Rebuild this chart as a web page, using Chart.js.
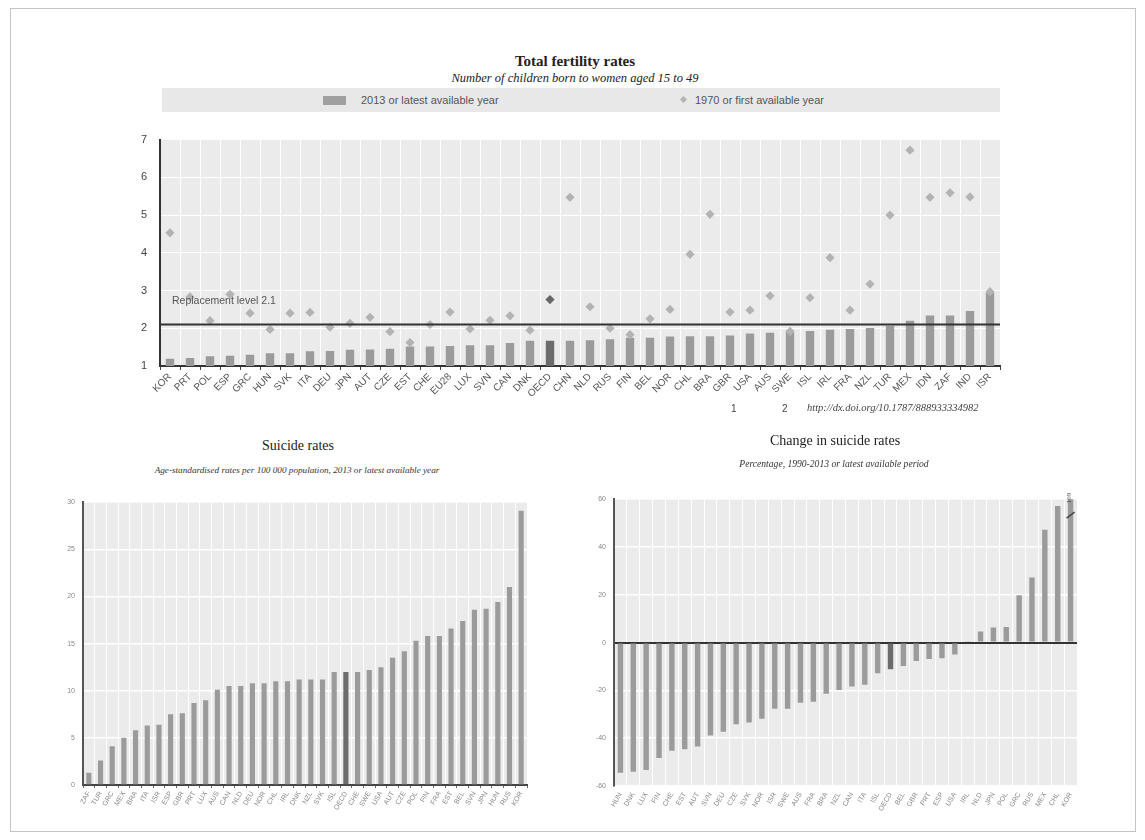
<!DOCTYPE html>
<html>
<head>
<meta charset="utf-8">
<script src="https://cdn.jsdelivr.net/npm/chart.js@4.4.1/dist/chart.umd.min.js"></script>
<style>
  body { margin: 0; background: #fff; width: 1145px; height: 840px; position: relative; overflow: hidden; font-family: "Liberation Sans", Arial, sans-serif; }
  .frame { position: absolute; left: 10px; top: 8px; width: 1124px; height: 822px; border: 1px solid #c4c4c4; }
  .abs { position: absolute; white-space: nowrap; }
  .ctr { text-align: center; }
  .serif { font-family: "Liberation Serif", "DejaVu Serif", serif; color: #222; }
  canvas { position: absolute; }
</style>
</head>
<body>
<div class="frame"></div>

<!-- top chart heading + legend -->
<div class="abs ctr serif" style="left:0;top:53px;width:1150px;font-size:15px;font-weight:bold;">Total fertility rates</div>
<div class="abs ctr serif" style="left:0;top:71px;width:1150px;font-size:12.5px;font-style:italic;">Number of children born to women aged 15 to 49</div>
<div class="abs" style="left:162px;top:88px;width:838px;height:24px;background:#e8e8e8;"></div>
<div class="abs" style="left:323px;top:96px;width:23px;height:9px;background:#a0a0a0;"></div>
<div class="abs" style="left:361px;top:94px;font-size:11px;color:#555;">2013 or latest available year</div>
<div class="abs" style="left:681px;top:97px;width:5px;height:5px;background:#b3b3b3;transform:rotate(45deg);"></div>
<div class="abs" style="left:695px;top:94px;font-size:11px;color:#555;">1970 or first available year</div>
<canvas id="fertChart" width="910" height="290" style="left:100px;top:120px;"></canvas>
<div class="abs" style="left:731px;top:403px;font-size:10px;color:#444;">1</div>
<div class="abs" style="left:782px;top:403px;font-size:10px;color:#444;">2</div>
<div class="abs serif" style="left:807px;top:402px;font-size:10.5px;font-style:italic;color:#444;">http://dx.doi.org/10.1787/888933334982</div>

<!-- bottom left -->
<div class="abs ctr serif" style="left:198px;top:438px;width:200px;font-size:14px;">Suicide rates</div>
<div class="abs ctr serif" style="left:97px;top:465px;width:400px;font-size:9.2px;font-style:italic;color:#333;">Age-standardised rates per 100 000 population, 2013 or latest available year</div>
<canvas id="suicideChart" width="500" height="340" style="left:40px;top:490px;"></canvas>

<!-- bottom right -->
<div class="abs ctr serif" style="left:735px;top:433px;width:200px;font-size:14px;">Change in suicide rates</div>
<div class="abs ctr serif" style="left:684px;top:458px;width:300px;font-size:9.6px;font-style:italic;color:#333;">Percentage, 1990-2013 or latest available period</div>
<canvas id="changeChart" width="520" height="343" style="left:570px;top:487px;"></canvas>

<script>
// fertility
const fertCountries = ["KOR","PRT","POL","ESP","GRC","HUN","SVK","ITA","DEU","JPN","AUT","CZE","EST","CHE","EU28","LUX","SVN","CAN","DNK","OECD","CHN","NLD","RUS","FIN","BEL","NOR","CHL","BRA","GBR","USA","AUS","SWE","ISL","IRL","FRA","NZL","TUR","MEX","IDN","ZAF","IND","ISR"];
const fertLatest = [1.19,1.21,1.26,1.27,1.30,1.34,1.34,1.39,1.40,1.43,1.44,1.46,1.52,1.52,1.53,1.55,1.55,1.61,1.67,1.67,1.67,1.68,1.71,1.75,1.75,1.78,1.79,1.79,1.81,1.86,1.88,1.91,1.93,1.96,1.98,2.01,2.07,2.20,2.34,2.34,2.46,2.94];
const fertFirst = [4.53,2.83,2.20,2.90,2.40,1.97,2.40,2.42,2.03,2.13,2.29,1.91,1.62,2.10,2.43,1.98,2.21,2.33,1.95,2.76,5.47,2.57,2.00,1.83,2.25,2.50,3.96,5.02,2.43,2.48,2.86,1.92,2.81,3.87,2.48,3.17,5.00,6.72,5.47,5.59,5.48,2.97];
const replacementLevel = 2.1;

// suicide rates
const suicideCountries = ["ZAF","TUR","GRC","MEX","BRA","ITA","ISR","ESP","GBR","PRT","LUX","AUS","CAN","NLD","DEU","NOR","CHL","IRL","DNK","NZL","SVK","ISL","OECD","CHE","SWE","USA","AUT","CZE","POL","FIN","FRA","EST","BEL","SVN","JPN","HUN","RUS","KOR"];
const suicideRates = [1.3,2.6,4.1,5.0,5.8,6.3,6.4,7.5,7.6,8.7,9.0,10.1,10.5,10.5,10.8,10.8,11.0,11.0,11.2,11.2,11.2,12.0,12.0,12.0,12.2,12.5,13.5,14.2,15.3,15.8,15.8,16.6,17.4,18.6,18.7,19.4,21.0,29.1];

// change in suicide rates
const changeCountries = ["HUN","DNK","LUX","FIN","CHE","EST","AUT","SVN","DEU","CZE","SVK","NOR","ISR","SWE","AUS","FRA","BRA","NZL","CAN","ITA","ISL","OECD","BEL","GBR","PRT","ESP","USA","IRL","NLD","JPN","POL","GRC","RUS","MEX","CHL","KOR"];
const changeRates = [-54.5,-54.0,-53.3,-48.3,-45.3,-44.6,-43.5,-38.9,-37.3,-34.2,-33.4,-31.9,-27.7,-27.7,-25.2,-24.7,-21.4,-19.8,-18.4,-17.6,-12.8,-11.1,-9.8,-7.7,-6.9,-6.6,-5.0,0.6,4.6,6.3,6.5,19.8,27.2,47.2,57.2,109];

const barGrey = "#9b9b9b";
const oecdGrey = "#6c6c6c";
const shade = (list, normal, dark) => list.map((c) => (c === "OECD" ? dark : normal));

// light grey plot area behind the white grid
const plotBg = {
  id: "plotBg",
  beforeDraw(chart) {
    const { ctx, chartArea: a } = chart;
    ctx.save();
    ctx.fillStyle = "#ebebeb";
    ctx.fillRect(a.left, a.top, a.right - a.left, a.bottom - a.top);
    ctx.restore();
  },
};

const replacementLine = {
  id: "replacementLine",
  afterDatasetsDraw(chart) {
    const { ctx, chartArea: a } = chart;
    const y = chart.scales.y.getPixelForValue(replacementLevel);
    ctx.save();
    ctx.strokeStyle = "#333";
    ctx.lineWidth = 2;
    ctx.beginPath();
    ctx.moveTo(a.left, y);
    ctx.lineTo(a.right, y);
    ctx.stroke();
    ctx.fillStyle = "#555";
    ctx.font = '10.5px "Liberation Sans", Arial, sans-serif';
    ctx.textBaseline = "middle";
    ctx.fillText("Replacement level " + replacementLevel, a.left + 12, y - 23);
    ctx.restore();
  },
};

// value label + break mark for bars running off the top
const clippedLabel = {
  id: "clippedLabel",
  afterDatasetsDraw(chart) {
    const { ctx, chartArea: a } = chart;
    const yScale = chart.scales.y;
    const meta = chart.getDatasetMeta(0);
    chart.data.datasets[0].data.forEach((v, i) => {
      if (v <= yScale.max) return;
      const bar = meta.data[i];
      ctx.save();
      ctx.strokeStyle = "#444";
      ctx.lineWidth = 1.5;
      ctx.beginPath();
      ctx.moveTo(bar.x - 4, a.top + 19);
      ctx.lineTo(bar.x + 4, a.top + 13);
      ctx.stroke();
      ctx.translate(bar.x - 1, a.top + 4);
      ctx.rotate(-Math.PI / 2);
      ctx.fillStyle = "#555";
      ctx.font = '7px "Liberation Serif", serif';
      ctx.textBaseline = "middle";
      ctx.fillText(String(v), 0, 0);
      ctx.restore();
    });
  },
};

new Chart(document.getElementById("fertChart"), {
  type: "bar",
  data: {
    labels: fertCountries,
    datasets: [
      {
        type: "line",
        label: "1970 or first available year",
        data: fertFirst,
        showLine: false,
        pointStyle: "rectRot",
        pointRadius: 4.6,
        pointBorderWidth: 0,
        pointBackgroundColor: shade(fertCountries, "#b3b3b3", "#666"),
        order: 0,
      },
      {
        label: "2013 or latest available year",
        data: fertLatest,
        backgroundColor: shade(fertCountries, barGrey, oecdGrey),
        barPercentage: 0.42,
        categoryPercentage: 1,
        order: 1,
      },
    ],
  },
  options: {
    responsive: false,
    animation: false,
    layout: { padding: { left: 0, right: 10, top: 11, bottom: 4 } },
    plugins: { legend: { display: false }, tooltip: { enabled: false } },
    scales: {
      x: {
        grid: { color: "#fff", offset: true, tickColor: "#444", tickLength: 4 },
        border: { color: "#333", width: 2 },
        ticks: { color: "#555", font: { size: 10 }, minRotation: 45, maxRotation: 45, autoSkip: false, padding: 1 },
        afterFit: (s) => { s.height = 40; },
      },
      y: {
        min: 1,
        max: 7,
        ticks: { stepSize: 1, color: "#444", font: { size: 11 }, padding: 13 },
        grid: { color: "#fff", drawTicks: false },
        border: { color: "#333", width: 2 },
        afterFit: (s) => { s.width = 60; },
      },
    },
  },
  plugins: [plotBg, replacementLine],
});

new Chart(document.getElementById("suicideChart"), {
  type: "bar",
  data: {
    labels: suicideCountries,
    datasets: [
      {
        label: "Suicide rates",
        data: suicideRates,
        backgroundColor: shade(suicideCountries, barGrey, oecdGrey),
        barPercentage: 0.44,
        categoryPercentage: 1,
      },
    ],
  },
  options: {
    responsive: false,
    animation: false,
    layout: { padding: { left: 0, right: 13, top: 7, bottom: 5 } },
    plugins: { legend: { display: false }, tooltip: { enabled: false } },
    scales: {
      x: {
        grid: { color: "#fff", offset: true, tickColor: "#666", tickLength: 3 },
        border: { color: "#444", width: 2 },
        ticks: { color: "#888", font: { size: 7 }, minRotation: 60, maxRotation: 60, autoSkip: false, padding: 2 },
        afterFit: (s) => { s.height = 40; },
      },
      y: {
        min: 0,
        max: 30,
        ticks: { stepSize: 5, color: "#888", font: { size: 7 }, padding: 8 },
        grid: { color: "#fff", lineWidth: 1.5, drawTicks: false },
        border: { color: "#555", width: 2 },
        afterFit: (s) => { s.width = 43; },
      },
    },
  },
  plugins: [plotBg],
});

new Chart(document.getElementById("changeChart"), {
  type: "bar",
  data: {
    labels: changeCountries,
    datasets: [
      {
        label: "Change in suicide rates",
        data: changeRates,
        backgroundColor: shade(changeCountries, barGrey, oecdGrey),
        barPercentage: 0.42,
        categoryPercentage: 1,
      },
    ],
  },
  options: {
    responsive: false,
    animation: false,
    layout: { padding: { left: 0, right: 13, top: 7, bottom: 4 } },
    plugins: { legend: { display: false }, tooltip: { enabled: false } },
    scales: {
      x: {
        grid: { color: "#fff", offset: true, drawTicks: false },
        border: { display: false },
        ticks: { color: "#888", font: { size: 7 }, minRotation: 60, maxRotation: 60, autoSkip: false, padding: 5 },
        afterFit: (s) => { s.height = 40; },
      },
      y: {
        min: -60,
        max: 60,
        ticks: { stepSize: 20, color: "#888", font: { size: 7 }, padding: 8 },
        grid: {
          color: (c) => (c.tick && c.tick.value === 0 ? "#333" : "#fff"),
          lineWidth: (c) => (c.tick && c.tick.value === 0 ? 2 : 1.5),
          drawTicks: false,
        },
        border: { color: "#555", width: 2 },
        afterFit: (s) => { s.width = 44; },
      },
    },
  },
  plugins: [plotBg, clippedLabel],
});
</script>
</body>
</html>
